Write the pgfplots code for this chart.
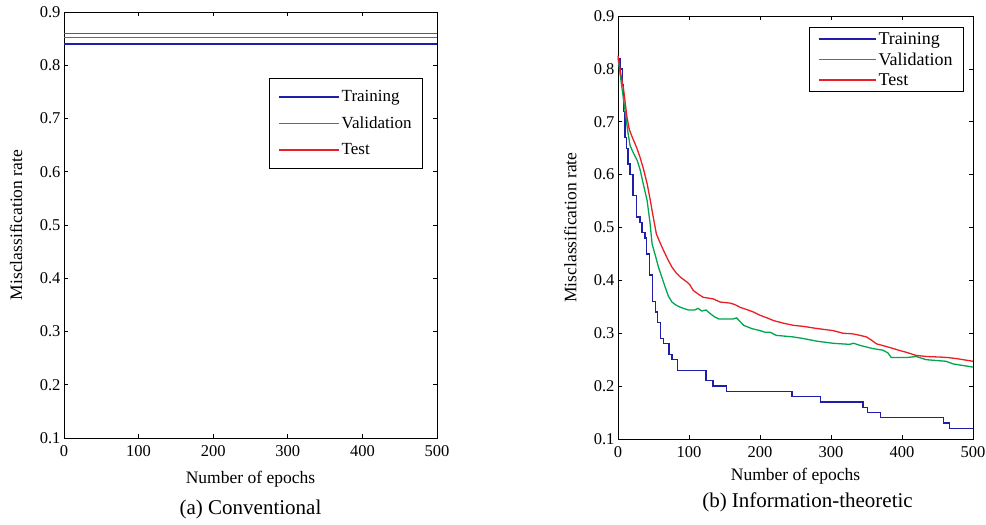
\documentclass[border=0pt]{standalone}
\usepackage{pgfplots}
\pgfplotsset{compat=1.18}
\usepackage{fontspec}
\setmainfont{Liberation Serif}
\definecolor{mblue}{RGB}{30,30,170}
\definecolor{mgreen}{RGB}{0,165,80}
\definecolor{mred}{RGB}{235,30,35}
\pgfplotsset{
  /pgf/number format/assume math mode=true,
  common/.style={
    scale only axis,
    xmin=0, xmax=500, ymin=0.1, ymax=0.9,
    xtick={0,100,...,500}, ytick={0.1,0.2,...,0.9},
    yticklabel style={/pgf/number format/fixed,/pgf/number format/precision=1},
    tick align=inside, major tick length=4pt,
    axis line style={line width=0.8pt},
    every tick/.style={black, line width=0.6pt},
    tick label style={font=\fontsize{16.5}{18}\selectfont},
    xticklabel style={yshift=-4pt},
    label style={font=\fontsize{17.5}{19}\selectfont},
    xlabel={Number of epochs},
    ylabel={Misclassification rate},
    clip=false,
    legend cell align=left,
    every axis plot/.append style={line width=1.3pt},
  }
}
\begin{document}
\begin{tikzpicture}[x=1pt,y=1pt]
\useasboundingbox (0,0) rectangle (986,525);
\begin{axis}[common, name=A,
  at={(64pt,87pt)}, anchor=south west,
  width=373pt, height=426pt,
  xlabel style={yshift=-8pt},
  ylabel style={at={(axis description cs:-0.102,0.5)}, anchor=south},
  legend style={at={(0.9625,0.845)}, anchor=north east, draw=black, line width=0.8pt,
    font=\fontsize{17}{19}\selectfont, inner xsep=9pt, inner ysep=10pt,
    row sep=9.5pt},
  legend image code/.code={\draw[#1, line width=1.5pt] (0pt,0pt) -- (60pt,0pt);},
]
\addplot[mblue, line width=1.6pt] coordinates {(0,0.840) (500,0.840)};
\addlegendentry{Training}
\addplot[mgreen, line width=1.6pt] coordinates {(0,0.852) (500,0.852)};
\addlegendentry{Validation}
\addplot[mred, line width=1.6pt] coordinates {(0,0.860) (500,0.860)};
\addlegendentry{Test}
\end{axis}
\node[font=\fontsize{21}{24}\selectfont] at ([yshift=-71pt]A.south) {(a) Conventional};

\begin{axis}[common, name=B,
  at={(618pt,86pt)}, anchor=south west,
  width=355pt, height=423pt,
  xlabel style={yshift=-4pt},
  ylabel style={at={(axis description cs:-0.107,0.5)}, anchor=south},
  legend style={at={(0.9746,0.9747)}, anchor=north east, draw=black, line width=0.8pt,
    font=\fontsize{18}{20}\selectfont, inner xsep=9pt, inner ysep=3pt,
    row sep=3pt},
  legend image code/.code={\draw[#1, line width=1.5pt] (0pt,0pt) -- (57pt,0pt);},
]
\addplot[mblue, const plot] coordinates {
(0,0.82) (3,0.80) (6,0.77) (8,0.72) (10,0.67) (12,0.65) (14,0.62) (17,0.60)
(21,0.56) (26,0.52) (31,0.51) (34,0.49) (38,0.48) (40,0.45) (44,0.41) (49,0.36)
(53,0.34) (56,0.32) (60,0.29) (64,0.28) (72,0.26) (76,0.25) (84,0.23) (124,0.21)
(134,0.20) (153,0.19) (245,0.18) (285,0.17) (345,0.16) (351,0.15) (370,0.14)
(458,0.13) (467,0.12) (500,0.12)};
\addlegendentry{Training}
\addplot[mgreen] coordinates {
(0,0.82) (5,0.77) (10,0.72) (14,0.68) (17,0.655) (22,0.64) (27,0.627) (31,0.61)
(36,0.58) (41,0.551) (45,0.51) (48,0.469) (53,0.445) (57,0.425) (62,0.405)
(66.5,0.387) (71,0.37) (76,0.359) (82,0.353) (88,0.349) (99,0.344) (108,0.344)
(113,0.347) (118,0.342) (124,0.344) (130,0.337) (136,0.331) (142,0.327) (162,0.327)
(167,0.329) (172,0.322) (177,0.315) (188,0.309) (200,0.305) (207,0.302) (214,0.302)
(223,0.296) (247,0.293) (261,0.290) (280,0.285) (303,0.281) (326,0.279) (332,0.281)
(341,0.277) (359,0.271) (373,0.268) (380,0.263) (385,0.254) (406,0.254) (420,0.256)
(434,0.250) (462,0.247) (472,0.242) (500,0.236)};
\addlegendentry{Validation}
\addplot[mred] coordinates {
(0,0.825) (4,0.79) (8,0.76) (12.6,0.709) (16,0.685) (20,0.671) (26,0.652) (31,0.633)
(36,0.61) (41,0.583) (45,0.555) (48,0.532) (51,0.51) (54,0.488) (59,0.472) (64,0.457)
(70,0.44) (76,0.425) (82,0.414) (88,0.406) (94,0.400) (97,0.397) (101,0.392)
(106,0.381) (113,0.374) (120,0.368) (134,0.365) (144,0.359) (158,0.357) (165,0.354)
(172,0.349) (181,0.345) (191,0.340) (200,0.334) (210,0.329) (219,0.324) (233,0.319)
(247,0.315) (261,0.313) (280,0.309) (303,0.305) (317,0.300) (330,0.299) (341,0.296)
(350,0.293) (357,0.287) (364,0.280) (383,0.273) (395,0.268) (406,0.264) (420,0.258)
(435,0.256) (453,0.255) (465,0.254) (477,0.252) (500,0.247)};
\addlegendentry{Test}
\end{axis}
\node[font=\fontsize{21}{24}\selectfont] at ([xshift=12pt,yshift=-63pt]B.south) {(b) Information-theoretic};
\end{tikzpicture}
\end{document}
